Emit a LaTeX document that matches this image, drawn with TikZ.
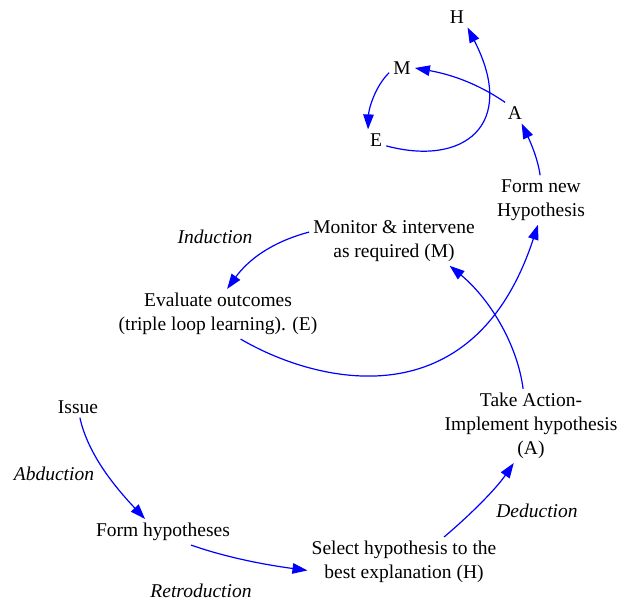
\documentclass[tikz,border=0pt]{standalone}
\usepackage{fontspec}
\setmainfont{Liberation Serif}
\usetikzlibrary{arrows.meta}
\begin{document}
\begin{tikzpicture}[x=1pt,y=1pt,
  lbl/.style={align=center, inner sep=4pt, font=\fontsize{19.5}{24}\selectfont},
  itl/.style={inner sep=1pt, font=\fontsize{19.5}{24}\selectfont\itshape},
  arr/.style={draw=blue, line width=1.2pt, -{Triangle[length=15pt,width=10.5pt]}}]
\useasboundingbox (0,0) rectangle (620,601);
% nodes
\node[lbl] (H) at (457,584) {H};
\node[lbl] (M) at (402,533) {M};
\node[lbl] (A) at (515,488) {A};
\node[lbl] (E) at (376,461) {E};
\node[lbl] (newh) at (541,401) {Form new\\Hypothesis};
\node[lbl] (mon) at (394,360) {Monitor \& intervene\\as required (M)};
\node[itl] (ind) at (215,364) {Induction};
\node[lbl] (eval) at (218,287) {Evaluate outcomes\\(triple loop learning). (E)};
\node[lbl] (issue) at (78,194) {Issue};
\node[itl] (abd) at (54,127) {Abduction};
\node[lbl] (act) at (531,175) {Take Action-\\Implement hypothesis\\(A)};
\node[itl] (ded) at (537,90) {Deduction};
\node[lbl] (formh) at (163,69) {Form hypotheses};
\node[lbl] (select) at (404,39) {Select hypothesis to the\\best explanation (H)};
\node[itl] (retro) at (201,10) {Retroduction};
% edges
\draw[arr] (issue.-80) .. controls (88,146.5) and (115,114) .. (formh.144);
\draw[arr] (formh.-25) .. controls (227.8,43) and (267.3,35.9) .. (select.185);
\draw[arr] (select.32) .. controls (467,83.3) and (494.8,110.4) .. (act.-115);
\draw[arr] (act.102) .. controls (516.9,259.6) and (487.2,304.5) .. (mon.-24);
\draw[arr] (mon.174) .. controls (270.4,358.6) and (247.6,340.3) .. (eval.70);
\draw[arr] (eval.-48) .. controls (316.1,217.6) and (473.1,178.3) .. (newh.-97);
\draw[arr] (newh.92) .. controls (537.5,443.8) and (529.6,460.7) .. (A.-58);
\draw[arr] (A.133) .. controls (476,518.6) and (449,526.9) .. (M.0);
\draw[arr] (M.200) .. controls (375.1,514.6) and (368.7,492) .. (E.127);
\draw[arr] (E.-30) .. controls (463.3,434.3) and (517.9,475.4) .. (H.-45);
\end{tikzpicture}
\end{document}
